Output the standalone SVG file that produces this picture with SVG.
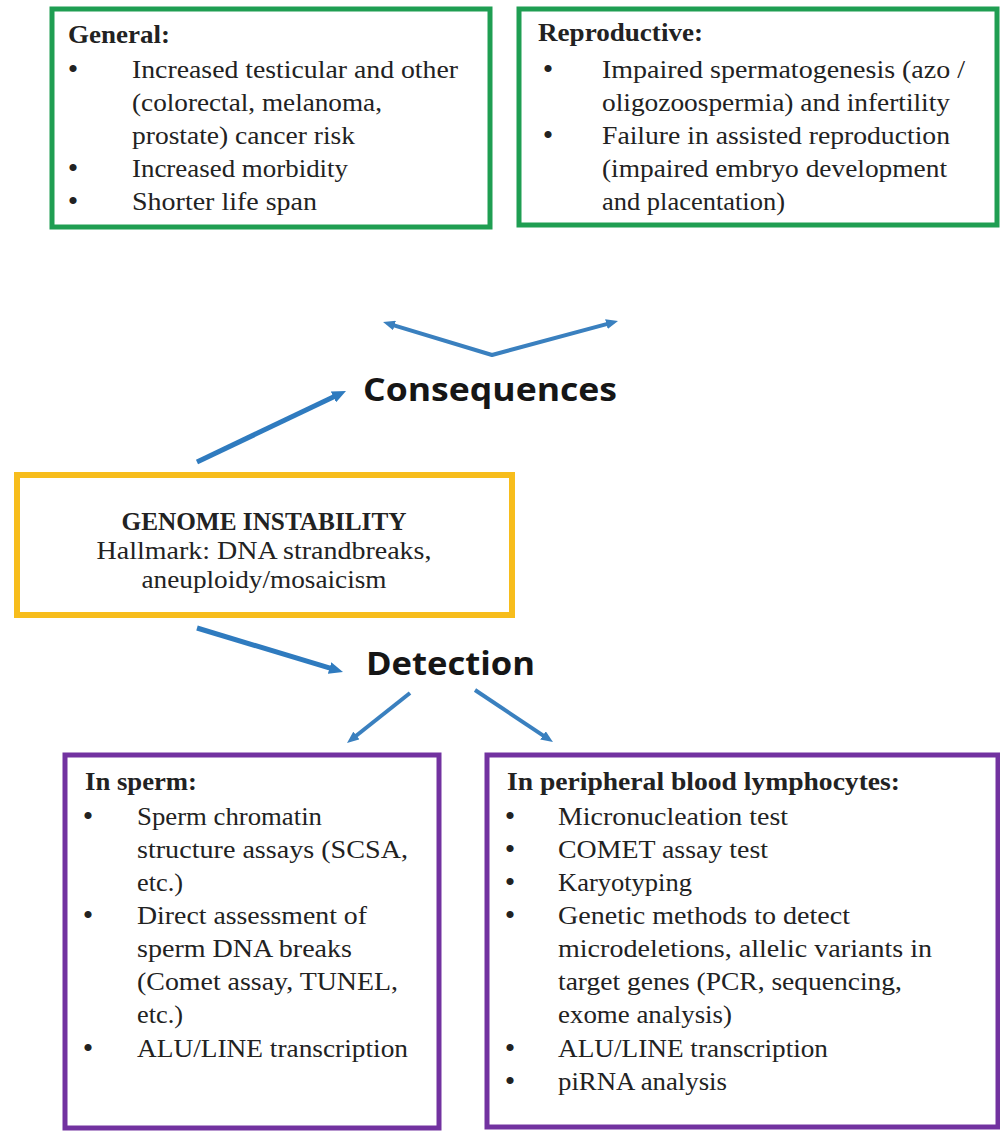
<svg xmlns="http://www.w3.org/2000/svg" width="1000" height="1132" viewBox="0 0 1000 1132">
<style>
.bg{fill:#ffffff}
.green{fill:#ffffff;stroke:#1f9e52;stroke-width:5}
.gold{fill:#ffffff;stroke:#f7bd1c;stroke-width:6}
.purple{fill:#ffffff;stroke:#7232a0;stroke-width:5}
.t{font-family:"Liberation Serif","DejaVu Serif",serif;font-size:25px;font-weight:normal;font-style:normal;fill:#222222}
.b{font-weight:bold}
.bul{font-family:"Liberation Serif","DejaVu Serif",serif;font-size:30px;fill:#222222;text-anchor:middle}
.mid{text-anchor:middle}
.big{font-family:"Open Sans","Noto Sans",sans-serif;font-size:32px;font-weight:bold;fill:#161616}
.arr{fill:none;stroke:#2f7bbf;stroke-width:5;stroke-linecap:butt;stroke-linejoin:round}
.arr2{fill:none;stroke:#3a80bf;stroke-width:4;stroke-linecap:butt;stroke-linejoin:round}
</style>
<defs>
<marker id="ah" markerUnits="userSpaceOnUse" viewBox="0 0 14 12" markerWidth="14" markerHeight="12" refX="4" refY="6" orient="auto-start-reverse">
<path d="M0,0 L14,6 L0,12 z" fill="#2f7bbf"/>
</marker>
<marker id="ah2" markerUnits="userSpaceOnUse" viewBox="0 0 12 10" markerWidth="12" markerHeight="10" refX="4" refY="5" orient="auto-start-reverse">
<path d="M0,0 L12,5 L0,10 z" fill="#3a80bf"/>
</marker>
</defs>
<rect class="bg" x="0" y="0" width="1000" height="1132"/>

<g id="connectors">
<path class="arr2" d="M390.7,324.3 L492,355 L610.3,323.1" marker-start="url(#ah2)" marker-end="url(#ah2)"/>
<path class="arr" d="M197,462 L337,395.3" marker-end="url(#ah)"/>
<path class="arr" d="M197,628 L333.4,669.1" marker-end="url(#ah)"/>
<path class="arr2" d="M410,693 L353.3,738" marker-end="url(#ah2)"/>
<path class="arr2" d="M475,690 L546.3,737.6" marker-end="url(#ah2)"/>
</g>

<g id="general">
<rect class="green" x="52" y="9" width="438" height="218"/>
<text class="t b" x="68" y="43" textLength="102" lengthAdjust="spacingAndGlyphs">General:</text>
<text class="bul" x="73" y="79">•</text>
<text class="t" x="132" y="78" textLength="326" lengthAdjust="spacingAndGlyphs">Increased testicular  and other</text>
<text class="t" x="132" y="111" textLength="250" lengthAdjust="spacingAndGlyphs">(colorectal,  melanoma,</text>
<text class="t" x="132" y="144" textLength="223" lengthAdjust="spacingAndGlyphs">prostate) cancer risk</text>
<text class="bul" x="73" y="178">•</text>
<text class="t" x="132" y="177" textLength="216" lengthAdjust="spacingAndGlyphs">Increased morbidity</text>
<text class="bul" x="73" y="211">•</text>
<text class="t" x="132" y="210" textLength="185" lengthAdjust="spacingAndGlyphs">Shorter life  span</text>
</g>

<g id="reproductive">
<rect class="green" x="519" y="9" width="478" height="216"/>
<text class="t b" x="538" y="41" textLength="165" lengthAdjust="spacingAndGlyphs">Reproductive:</text>
<text class="bul" x="548" y="79">•</text>
<text class="t" x="602" y="78" textLength="363" lengthAdjust="spacingAndGlyphs">Impaired  spermatogenesis  (azo /</text>
<text class="t" x="602" y="111" textLength="348" lengthAdjust="spacingAndGlyphs">oligozoospermia)  and infertility</text>
<text class="bul" x="548" y="145">•</text>
<text class="t" x="602" y="144" textLength="348" lengthAdjust="spacingAndGlyphs">Failure  in  assisted  reproduction</text>
<text class="t" x="602" y="177" textLength="345" lengthAdjust="spacingAndGlyphs">(impaired  embryo  development</text>
<text class="t" x="602" y="210" textLength="183" lengthAdjust="spacingAndGlyphs">and placentation)</text>
</g>

<g id="consequences">
<text class="big" x="363" y="401" textLength="254" lengthAdjust="spacingAndGlyphs">Consequences</text>
</g>

<g id="genome">
<rect class="gold" x="17" y="475" width="495" height="140"/>
<text class="t b mid" x="264" y="530" textLength="285" lengthAdjust="spacingAndGlyphs">GENOME INSTABILITY</text>
<text class="t mid" x="264" y="559" textLength="335" lengthAdjust="spacingAndGlyphs">Hallmark:  DNA strandbreaks,</text>
<text class="t mid" x="264" y="588" textLength="245" lengthAdjust="spacingAndGlyphs">aneuploidy/mosaicism</text>
</g>

<g id="detection">
<text class="big" x="366" y="675" textLength="169" lengthAdjust="spacingAndGlyphs">Detection</text>
</g>

<g id="sperm">
<rect class="purple" x="65" y="755" width="374" height="373"/>
<text class="t b" x="85" y="790" textLength="112" lengthAdjust="spacingAndGlyphs">In sperm:</text>
<text class="bul" x="88" y="826">•</text>
<text class="t" x="137" y="825" textLength="185" lengthAdjust="spacingAndGlyphs">Sperm chromatin</text>
<text class="t" x="137" y="858" textLength="271" lengthAdjust="spacingAndGlyphs">structure  assays (SCSA,</text>
<text class="t" x="137" y="891" textLength="46" lengthAdjust="spacingAndGlyphs">etc.)</text>
<text class="bul" x="88" y="925">•</text>
<text class="t" x="137" y="924" textLength="230" lengthAdjust="spacingAndGlyphs">Direct  assessment  of</text>
<text class="t" x="137" y="957" textLength="215" lengthAdjust="spacingAndGlyphs">sperm DNA breaks</text>
<text class="t" x="137" y="990" textLength="261" lengthAdjust="spacingAndGlyphs">(Comet assay, TUNEL,</text>
<text class="t" x="137" y="1023" textLength="46" lengthAdjust="spacingAndGlyphs">etc.)</text>
<text class="bul" x="88" y="1058">•</text>
<text class="t" x="137" y="1057" textLength="271" lengthAdjust="spacingAndGlyphs">ALU/LINE  transcription</text>
</g>

<g id="lymphocytes">
<rect class="purple" x="487" y="755" width="511" height="372"/>
<text class="t b" x="507" y="790" textLength="393" lengthAdjust="spacingAndGlyphs">In peripheral  blood  lymphocytes:</text>
<text class="bul" x="510" y="826">•</text>
<text class="t" x="558" y="825" textLength="230" lengthAdjust="spacingAndGlyphs">Micronucleation  test</text>
<text class="bul" x="510" y="859">•</text>
<text class="t" x="558" y="858" textLength="210" lengthAdjust="spacingAndGlyphs">COMET assay test</text>
<text class="bul" x="510" y="892">•</text>
<text class="t" x="558" y="891" textLength="134" lengthAdjust="spacingAndGlyphs">Karyotyping</text>
<text class="bul" x="510" y="925">•</text>
<text class="t" x="558" y="924" textLength="292" lengthAdjust="spacingAndGlyphs">Genetic  methods  to detect</text>
<text class="t" x="558" y="957" textLength="374" lengthAdjust="spacingAndGlyphs">microdeletions,  allelic  variants  in</text>
<text class="t" x="558" y="990" textLength="344" lengthAdjust="spacingAndGlyphs">target  genes  (PCR,  sequencing,</text>
<text class="t" x="558" y="1023" textLength="174" lengthAdjust="spacingAndGlyphs">exome  analysis)</text>
<text class="bul" x="510" y="1058">•</text>
<text class="t" x="558" y="1057" textLength="270" lengthAdjust="spacingAndGlyphs">ALU/LINE  transcription</text>
<text class="bul" x="510" y="1091">•</text>
<text class="t" x="558" y="1090" textLength="169" lengthAdjust="spacingAndGlyphs">piRNA  analysis</text>
</g>
</svg>
